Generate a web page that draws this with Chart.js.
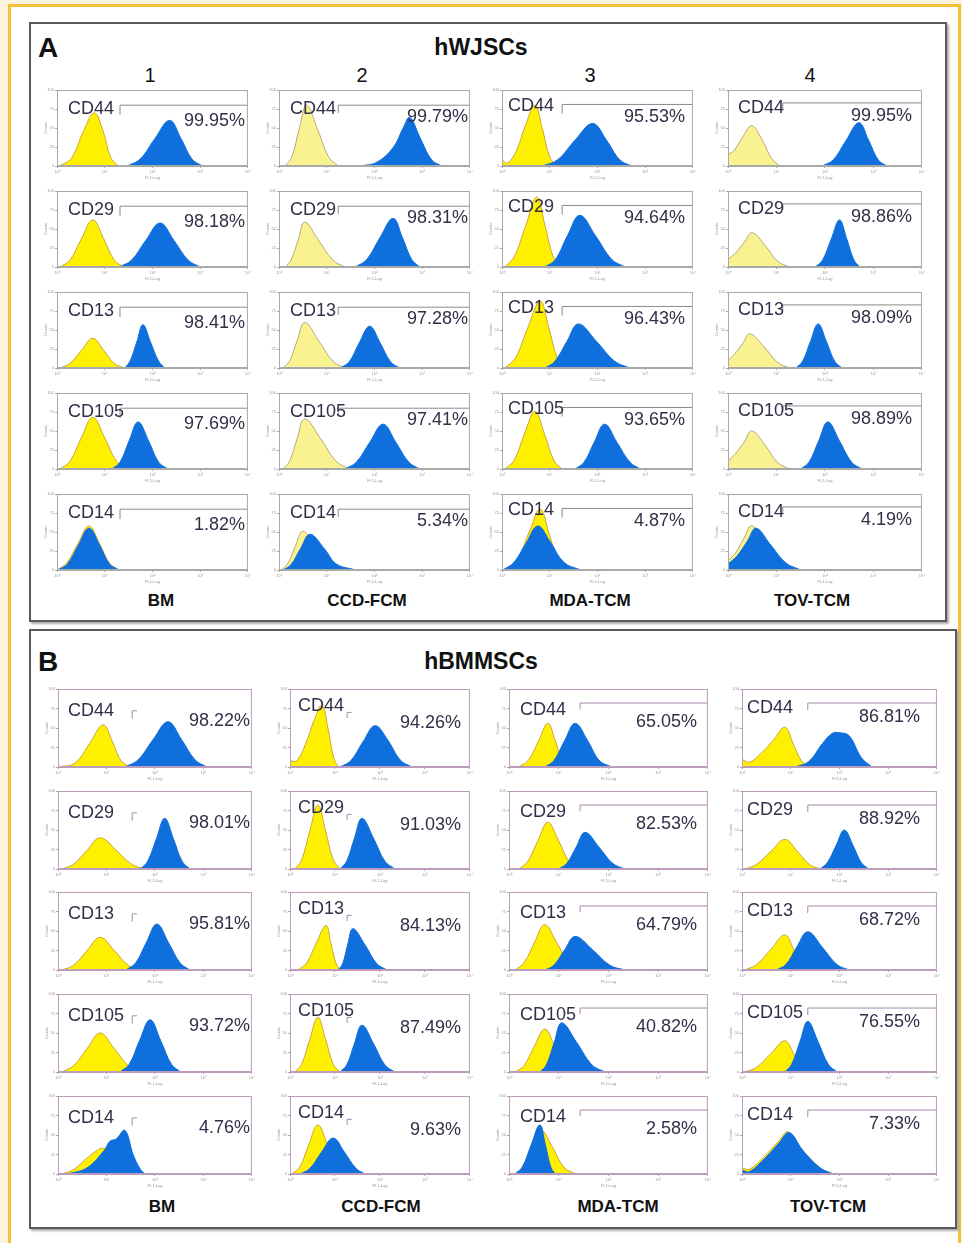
<!DOCTYPE html>
<html lang="en">
  <head>
    <meta charset="UTF-8" />
    <title>hWJSCs / hBMMSCs flow cytometry</title>
    <script src="https://cdn.jsdelivr.net/npm/chart.js"></script>
    <style>
      body {
        margin: 0;
        width: 962px;
        height: 1243px;
        overflow: hidden;
        background: #fdf2dc;
        font-family: "Liberation Sans", Arial, sans-serif;
        position: relative;
      }
      #sheet {
        position: absolute;
        left: 8px;
        top: 4px;
        width: 947px;
        height: 1260px;
        border: 3px solid #f4c13a;
        background: #fff;
      }
      .box {
        position: absolute;
        border: 2px solid #5a5a5a;
        box-shadow: 2px 2px 2px #aaa;
      }
      .txt {
        position: absolute;
        white-space: nowrap;
        line-height: 1;
        transform: translateY(-50%);
      }
      canvas {
        position: absolute;
      }
    </style>
  </head>
  <body>
    <div id="sheet"></div>
    <div class="box" style="left:29px;top:22px;width:914px;height:596px"></div>
    <div class="box" style="left:29px;top:629px;width:924px;height:596px"></div>
    <div id="root"></div>

    <script>
      const markers = ["CD44", "CD29", "CD13", "CD105", "CD14"];
      const conditions = ["BM", "CCD-FCM", "MDA-TCM", "TOV-TCM"];
      const xTickLabels = ["10⁰", "10¹", "10²", "10³", "10⁴"];
      const yTickLabels = ["0", "25", "50", "75", "100"];

      // hWJSCs percentages, one list per condition (CD44, CD29, CD13, CD105, CD14)
      const wjPctBM = ["99.95%", "98.18%", "98.41%", "97.69%", "1.82%"];
      const wjPctCCD = ["99.79%", "98.31%", "97.28%", "97.41%", "5.34%"];
      const wjPctMDA = ["95.53%", "94.64%", "96.43%", "93.65%", "4.87%"];
      const wjPctTOV = ["99.95%", "98.86%", "98.09%", "98.89%", "4.19%"];

      // hBMMSCs percentages
      const bmPctBM = ["98.22%", "98.01%", "95.81%", "93.72%", "4.76%"];
      const bmPctCCD = ["94.26%", "91.03%", "84.13%", "87.49%", "9.63%"];
      const bmPctMDA = ["65.05%", "82.53%", "64.79%", "40.82%", "2.58%"];
      const bmPctTOV = ["86.81%", "88.92%", "68.72%", "76.55%", "7.33%"];

      // histogram outlines: [log decade, % of axis height]
      // isotype (yellow) and stained (blue), hWJSCs
      const wjIsoBM = [
        [[0.05,0],[0.3,10],[0.55,45],[0.78,70],[0.97,45],[1.12,12],[1.28,0]],
        [[0.06,0],[0.27,9],[0.51,37],[0.75,62],[0.98,37],[1.2,9],[1.4,0]],
        [[0.06,0],[0.27,6],[0.51,23],[0.75,39],[0.98,23],[1.2,6],[1.42,0]],
        [[0.06,0],[0.27,10],[0.51,41],[0.75,68],[1.0,41],[1.25,10],[1.48,0]],
        [[0,0],[0.2,9],[0.44,35],[0.67,58],[0.89,35],[1.1,9],[1.3,0]],
      ];
      const wjStainBM = [
        [[1.47,0],[1.74,9],[2.05,36],[2.36,60],[2.6,36],[2.83,9],[3.05,0]],
        [[1.3,0],[1.56,9],[1.86,35],[2.16,58],[2.45,35],[2.75,9],[3.0,0]],
        [[1.42,0],[1.53,9],[1.67,34],[1.8,57],[1.96,34],[2.13,9],[2.26,0]],
        [[1.15,0],[1.32,9],[1.51,37],[1.7,62],[1.92,37],[2.13,9],[2.32,0]],
        [[0.02,0],[0.22,8],[0.45,33],[0.67,55],[0.89,33],[1.1,8],[1.3,0]],
      ];
      const wjIsoCCD = [
        [[0.13,0],[0.27,12],[0.42,48],[0.58,80],[0.81,48],[1.04,12],[1.24,0]],
        [[0.13,0],[0.25,9],[0.4,35],[0.54,59],[0.83,35],[1.13,9],[1.38,0]],
        [[0.08,0],[0.22,9],[0.38,36],[0.54,60],[0.83,36],[1.13,9],[1.38,0]],
        [[0.08,0],[0.22,10],[0.38,40],[0.54,66],[0.87,40],[1.2,10],[1.48,0]],
        [[0.05,0],[0.18,8],[0.34,31],[0.5,51],[0.78,31],[1.1,9],[1.6,0]],
      ];
      const wjStainCCD = [
        [[1.7,0],[2.05,5],[2.4,25],[2.6,50],[2.74,64],[2.95,38],[3.2,8],[3.41,0]],
        [[1.6,0],[1.84,10],[2.11,38],[2.39,64],[2.59,38],[2.78,10],[2.95,0]],
        [[1.28,0],[1.47,8],[1.68,33],[1.9,55],[2.12,33],[2.34,8],[2.53,0]],
        [[1.38,0],[1.62,9],[1.9,35],[2.18,59],[2.45,35],[2.72,9],[2.95,0]],
        [[0.08,0],[0.25,7],[0.45,28],[0.65,47],[0.95,28],[1.2,8],[1.6,0]],
      ];
      const wjIsoMDA = [
        [[0,8],[0.12,4],[0.3,20],[0.5,55],[0.69,80],[0.85,48],[1.0,12],[1.15,0]],
        [[0.06,0],[0.26,14],[0.5,55],[0.73,92],[0.9,55],[1.07,14],[1.22,0]],
        [[0.06,0],[0.28,13],[0.54,53],[0.8,88],[0.98,53],[1.16,13],[1.32,0]],
        [[0.06,0],[0.25,11],[0.47,46],[0.69,76],[0.89,46],[1.09,11],[1.26,0]],
        [[0.02,0],[0.3,12],[0.57,50],[0.8,80],[1.0,45],[1.2,12],[1.5,0]],
      ];
      const wjStainMDA = [
        [[0.84,0],[1.16,8],[1.53,34],[1.9,56],[2.19,34],[2.47,8],[2.72,0]],
        [[0.9,0],[1.12,10],[1.37,41],[1.63,68],[1.96,41],[2.3,10],[2.58,0]],
        [[0.9,0],[1.11,9],[1.36,35],[1.6,58],[1.98,35],[2.36,9],[2.68,0]],
        [[1.53,0],[1.72,9],[1.93,35],[2.15,59],[2.41,35],[2.68,9],[2.9,0]],
        [[0.02,0],[0.25,10],[0.5,35],[0.75,58],[1.0,38],[1.3,10],[1.65,0]],
      ];
      const wjIsoTOV = [
        [[0,15],[0.12,20],[0.3,38],[0.49,53],[0.7,35],[0.9,10],[1.07,0]],
        [[0,10],[0.15,18],[0.33,32],[0.5,45],[0.77,28],[1.03,7],[1.28,0]],
        [[0,10],[0.13,18],[0.3,32],[0.45,45],[0.74,28],[1.03,7],[1.28,0]],
        [[0,10],[0.15,20],[0.33,35],[0.49,50],[0.77,31],[1.03,8],[1.28,0]],
        [[0,12],[0.15,22],[0.33,42],[0.49,58],[0.8,35],[1.15,10],[1.5,0]],
      ];
      const wjStainTOV = [
        [[1.94,0],[2.17,8],[2.43,33],[2.7,57],[2.9,34],[3.1,8],[3.28,0]],
        [[1.8,0],[1.95,9],[2.13,37],[2.3,62],[2.45,37],[2.6,9],[2.72,0]],
        [[1.4,0],[1.54,9],[1.7,35],[1.86,58],[2.03,35],[2.2,9],[2.35,0]],
        [[1.5,0],[1.67,9],[1.87,37],[2.06,62],[2.3,37],[2.55,9],[2.76,0]],
        [[0,8],[0.18,18],[0.4,38],[0.58,55],[0.88,33],[1.2,9],[1.5,0]],
      ];

      // hBMMSCs
      const bmIsoBM = [
        [[0,0],[0.35,5],[0.65,30],[0.93,54],[1.12,33],[1.3,8],[1.48,0]],
        [[0.08,0],[0.32,6],[0.6,24],[0.87,40],[1.2,24],[1.52,6],[1.8,0]],
        [[0.08,0],[0.32,6],[0.6,25],[0.87,42],[1.16,25],[1.45,6],[1.7,0]],
        [[0.08,0],[0.32,8],[0.6,30],[0.87,50],[1.16,30],[1.45,8],[1.7,0]],
        [[0.08,0],[0.33,6],[0.63,22],[0.93,33],[1.15,22],[1.4,6],[1.6,0]],
      ];
      const bmStainBM = [
        [[1.38,0],[1.65,9],[1.96,35],[2.27,58],[2.55,35],[2.83,9],[3.07,0]],
        [[1.7,0],[1.85,10],[2.03,39],[2.2,65],[2.38,39],[2.56,10],[2.72,0]],
        [[1.4,0],[1.6,9],[1.82,35],[2.04,59],[2.28,35],[2.52,9],[2.72,0]],
        [[1.28,0],[1.47,10],[1.68,40],[1.9,67],[2.12,40],[2.34,10],[2.53,0]],
        [[0.2,0],[0.6,8],[0.95,30],[1.07,42],[1.2,45],[1.38,56],[1.55,25],[1.7,6],[1.8,0]],
      ];
      const bmIsoCCD = [
        [[0,8],[0.15,8],[0.35,30],[0.55,62],[0.71,79],[0.85,48],[0.97,12],[1.07,0]],
        [[0.11,0],[0.26,12],[0.44,49],[0.62,82],[0.79,49],[0.96,12],[1.11,0]],
        [[0.18,0],[0.37,9],[0.58,34],[0.8,57],[0.91,34],[1.02,9],[1.11,0]],
        [[0.11,0],[0.26,10],[0.44,42],[0.62,70],[0.79,42],[0.96,10],[1.11,0]],
        [[0.04,0],[0.22,9],[0.42,38],[0.62,63],[0.83,38],[1.04,9],[1.22,0]],
      ];
      const bmStainCCD = [
        [[1.11,0],[1.35,8],[1.62,32],[1.89,53],[2.17,35],[2.45,9],[2.71,0]],
        [[1.11,0],[1.26,10],[1.43,39],[1.6,65],[1.86,39],[2.11,10],[2.33,0]],
        [[1.07,0],[1.17,8],[1.28,32],[1.4,53],[1.67,32],[1.93,8],[2.16,0]],
        [[1.11,0],[1.26,9],[1.43,36],[1.6,60],[1.86,36],[2.11,9],[2.33,0]],
        [[0.22,0],[0.44,7],[0.7,28],[0.96,46],[1.21,28],[1.47,7],[1.67,0]],
      ];
      const bmIsoMDA = [
        [[0.18,0],[0.38,8],[0.6,34],[0.78,56],[0.93,34],[1.07,8],[1.2,0]],
        [[0.2,0],[0.37,9],[0.58,36],[0.78,60],[1.0,36],[1.21,9],[1.4,0]],
        [[0.12,0],[0.3,9],[0.51,35],[0.72,58],[0.96,35],[1.2,9],[1.4,0]],
        [[0.12,0],[0.3,8],[0.51,33],[0.72,55],[0.92,33],[1.13,8],[1.3,0]],
        [[0.12,0],[0.27,9],[0.45,36],[0.62,58],[0.87,35],[1.1,9],[1.33,0]],
      ];
      const bmStainMDA = [
        [[0.72,0],[0.9,8],[1.12,34],[1.33,56],[1.58,34],[1.82,8],[2.07,0]],
        [[1.0,0],[1.16,7],[1.35,28],[1.53,47],[1.81,28],[2.09,7],[2.33,0]],
        [[0.72,0],[0.9,6],[1.12,26],[1.33,43],[1.68,26],[2.03,6],[2.33,0]],
        [[0.62,0],[0.75,9],[0.91,38],[1.06,63],[1.36,38],[1.67,9],[1.93,0]],
        [[0.12,0],[0.27,9],[0.45,38],[0.62,63],[0.73,38],[0.84,9],[0.93,0]],
      ];
      const bmIsoTOV = [
        [[0,10],[0.15,6],[0.4,18],[0.65,35],[0.88,51],[1.05,30],[1.22,8],[1.39,0]],
        [[0.06,0],[0.3,6],[0.6,23],[0.88,38],[1.13,23],[1.38,6],[1.6,0]],
        [[0.06,0],[0.3,7],[0.6,27],[0.88,45],[1.06,27],[1.24,7],[1.4,0]],
        [[0.06,0],[0.3,6],[0.6,24],[0.88,40],[1.06,24],[1.24,6],[1.4,0]],
        [[0,8],[0.15,6],[0.45,22],[0.75,42],[0.95,54],[1.25,30],[1.6,8],[1.87,0]],
      ];
      const bmStainTOV = [
        [[1.09,0],[1.37,7],[1.65,30],[1.85,43],[2.0,44],[2.2,40],[2.45,12],[2.67,0]],
        [[1.6,0],[1.75,8],[1.93,30],[2.1,50],[2.28,30],[2.45,8],[2.6,0]],
        [[0.7,0],[0.9,7],[1.12,29],[1.35,49],[1.65,29],[1.95,7],[2.2,0]],
        [[0.88,0],[1.02,10],[1.19,39],[1.35,65],[1.56,39],[1.77,10],[1.95,0]],
        [[0,5],[0.15,3],[0.45,19],[0.75,39],[0.97,53],[1.25,30],[1.6,8],[1.87,0]],
      ];

      // ---- layout (pixels) ----
      const BLUE = "#0f6fdc";
      const root = document.getElementById("root");

      const panels = [
        {
          title: "A", name: "hWJSCs", titleY: 47, condY: 600, frame: "#a9a9a9", gateColor: "#8a8a8a",
          rows: [90, 191, 292, 393, 494], h: 76,
          cols: [
            { x: 57, w: 191, iso: wjIsoBM, stain: wjStainBM, pct: wjPctBM, yellow: "#fff000", edge: "#c9a53a",
              lab: [11, 18], pc: [3, 30], gate: [1.32, 80, 4, 13], num: "1", numX: 150, condX: 161 },
            { x: 279, w: 191, iso: wjIsoCCD, stain: wjStainCCD, pct: wjPctCCD, yellow: "#f8f290", edge: "#b9a97a",
              lab: [11, 18], pc: [2, 26], gate: [1.24, 80, 4, 10], num: "2", numX: 362, condX: 367 },
            { x: 502, w: 191, iso: wjIsoMDA, stain: wjStainMDA, pct: wjPctMDA, yellow: "#fff000", edge: "#c9a53a",
              lab: [6, 15], pc: [8, 26], gate: [1.26, 81, 4, 12], num: "3", numX: 590, condX: 590 },
            { x: 728, w: 194, iso: wjIsoTOV, stain: wjStainTOV, pct: wjPctTOV, yellow: "#f8f290", edge: "#b9a97a",
              lab: [10, 17], pc: [10, 25], gate: [1.13, 83, 4, 8], num: "4", numX: 810, condX: 812 },
          ],
        },
        {
          title: "B", name: "hBMMSCs", titleY: 661, condY: 1206, frame: "#bb9cbb", gateColor: "#a888a8",
          rows: [689, 791, 892, 994, 1096], h: 78,
          cols: [
            { x: 58, w: 194, iso: bmIsoBM, stain: bmStainBM, pct: bmPctBM, yellow: "#fff000", edge: "#c9a53a",
              lab: [10, 21], pc: [2, 31], gate: [1.53, 72, 1.63, 10], condX: 162 },
            { x: 290, w: 180, iso: bmIsoCCD, stain: bmStainCCD, pct: bmPctCCD, yellow: "#fff000", edge: "#c9a53a",
              lab: [8, 16], pc: [9, 33], gate: [1.27, 70, 1.37, 7], condX: 381 },
            { x: 509, w: 199, iso: bmIsoMDA, stain: bmStainMDA, pct: bmPctMDA, yellow: "#fff000", edge: "#c9a53a",
              lab: [11, 20], pc: [11, 32], gate: [1.43, 82, 4, 8], condX: 618 },
            { x: 742, w: 195, iso: bmIsoTOV, stain: bmStainTOV, pct: bmPctTOV, yellow: "#fff000", edge: "#c9a53a",
              lab: [5, 18], pc: [17, 27], gate: [1.35, 82, 4, 9], condX: 828 },
          ],
        },
      ];

      function addText(str, x, y, css, centered) {
        const d = document.createElement("div");
        d.className = "txt";
        d.textContent = str;
        d.style.cssText += css;
        d.style.top = y + "px";
        d.style.left = x + "px";
        if (centered) d.style.transform = "translate(-50%,-50%)";
        root.appendChild(d);
        return d;
      }

      const framePlugin = {
        id: "frame",
        afterDatasetsDraw(chart, args, opts) {
          const a = chart.chartArea;
          const ctx = chart.ctx;
          ctx.save();
          ctx.strokeStyle = opts.color;
          ctx.lineWidth = 1;
          ctx.strokeRect(a.left + 0.5, a.top + 0.5, a.right - a.left - 1, a.bottom - a.top - 1);
          ctx.restore();
        },
      };

      const xy = (pts) => pts.map((p) => ({ x: p[0], y: p[1] }));

      function addPlot(panel, col, r) {
        const fx = col.x, fy = panel.rows[r], fw = col.w, fh = panel.h;
        const cv = document.createElement("canvas");
        cv.width = fw + 18;
        cv.height = fh + 4 + 14;
        cv.style.left = fx - 14 + "px";
        cv.style.top = fy - 4 + "px";
        root.appendChild(cv);

        const g = col.gate;
        const gatePts = [{ x: g[0], y: g[1] - g[3] }, { x: g[0], y: g[1] }, { x: g[2], y: g[1] }];
        const tickFont = { size: 4, family: "Liberation Sans" };

        new Chart(cv, {
          type: "line",
          data: {
            datasets: [
              { data: gatePts, borderColor: panel.gateColor, borderWidth: 1, pointRadius: 0, fill: false, tension: 0 },
              {
                data: xy(col.stain[r]), fill: "origin", backgroundColor: BLUE, borderColor: BLUE,
                borderWidth: 1, pointRadius: 0, tension: 0.4,
              },
              {
                data: xy(col.iso[r]), fill: "origin", backgroundColor: col.yellow, borderColor: col.edge,
                borderWidth: 1, pointRadius: 0, tension: 0.4,
              },
            ],
          },
          options: {
            responsive: false,
            animation: false,
            events: [],
            layout: { padding: { top: 4, right: 4, left: 0, bottom: 0 } },
            plugins: { legend: { display: false }, tooltip: { enabled: false }, frame: { color: panel.frame } },
            scales: {
              x: {
                type: "linear", min: 0, max: 4,
                ticks: { stepSize: 1, font: tickFont, color: "#999", maxRotation: 0, padding: 1,
                  callback: (v) => xTickLabels[v] },
                grid: { drawOnChartArea: false, tickLength: 2, color: panel.frame },
                border: { color: panel.frame },
                title: { display: true, text: "FL1-Log", font: tickFont, color: "#999", padding: 0 },
                afterFit: (s) => { s.height = 14; },
              },
              y: {
                min: 0, max: 100,
                ticks: { stepSize: 25, font: tickFont, color: "#999", padding: 1,
                  callback: (v, i) => yTickLabels[i] },
                grid: { drawOnChartArea: false, tickLength: 2, color: panel.frame },
                border: { color: panel.frame },
                title: { display: true, text: "Counts", font: tickFont, color: "#999", padding: 0 },
                afterFit: (s) => { s.width = 14; },
              },
            },
          },
          plugins: [framePlugin],
        });

        const txt = "font-size:18px;color:#332f48;";
        addText(markers[r], fx + col.lab[0], fy + col.lab[1], txt);
        const p = addText(col.pct[r], 0, fy + col.pc[1], txt);
        p.style.left = "auto";
        p.style.right = 962 - (fx + fw - col.pc[0]) + "px";
      }

      panels.forEach((panel) => {
        addText(panel.title, 38, panel.titleY + 1, "font-size:28px;font-weight:bold;color:#111;");
        addText(panel.name, 481, panel.titleY, "font-size:23px;font-weight:bold;color:#111;", true);
        panel.cols.forEach((col, c) => {
          if (col.num) addText(col.num, col.numX, 75, "font-size:20px;color:#111;", true);
          addText(conditions[c], col.condX, panel.condY, "font-size:17px;font-weight:bold;color:#111;", true);
          for (let r = 0; r < markers.length; r++) addPlot(panel, col, r);
        });
      });
    </script>
  </body>
</html>
